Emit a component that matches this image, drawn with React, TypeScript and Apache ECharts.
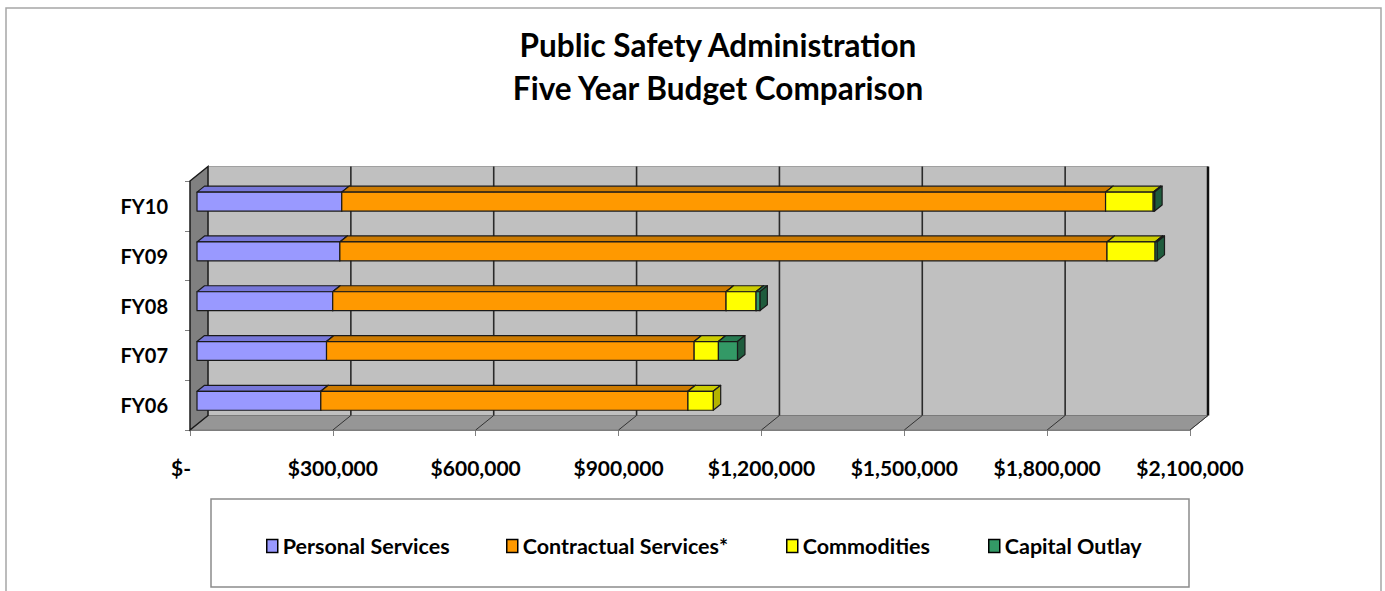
import React, { useEffect, useRef } from "react";
import * as echarts from "echarts";

const categories = ["FY06", "FY07", "FY08", "FY09", "FY10"];
const seriesNames = ["Personal Services", "Contractual Services*", "Commodities", "Capital Outlay"];
const personalServices = [260000, 272000, 285000, 300000, 304000];
const contractualServices = [771000, 772000, 826000, 1611000, 1604000];
const commodities = [53000, 51000, 63000, 101000, 100000];
const capitalOutlay = [0, 40000, 8000, 4000, 3000];
const xTicks = [0, 300000, 600000, 900000, 1200000, 1500000, 1800000, 2100000];

const frontColors = ["#9999FF", "#FF9900", "#FFFF00", "#339966"];
const topColors = ["#7777D9", "#CC7A00", "#CCCC00", "#267A50"];
const sideColors = ["#6666B3", "#B36B00", "#B3B300", "#1F5C3D"];
const legendX = [266, 506, 786, 988];

const FONT = "Lato";
const WALL_DEPTH = [18, -14.5];
const BAR_OFF = [7, -4.3];
const BAR_DEPTH = [7.5, -6];

function makeBarRenderer(k: number) {
  return (params: any, api: any) => {
    const cat = api.value(0);
    const s = api.value(1);
    const e = api.value(2);
    if (!(e - s > 0)) return null;
    const p0 = api.coord([s, cat]);
    const p1 = api.coord([e, cat]);
    const band = api.size([0, 1])[1];
    const h = band * 0.38;
    const x0 = p0[0] + BAR_OFF[0];
    const x1 = p1[0] + BAR_OFF[0];
    const yTop = p0[1] + BAR_OFF[1] - h / 2;
    const yBot = yTop + h;
    const dx = BAR_DEPTH[0];
    const dy = BAR_DEPTH[1];
    const st = { stroke: "#1a1a1a", lineWidth: 1.2, lineJoin: "round" };
    return {
      type: "group",
      children: [
        {
          type: "polygon",
          shape: { points: [[x0, yTop], [x0 + dx, yTop + dy], [x1 + dx, yTop + dy], [x1, yTop]] },
          style: { fill: topColors[k], ...st },
        },
        {
          type: "polygon",
          shape: { points: [[x1, yTop], [x1 + dx, yTop + dy], [x1 + dx, yBot + dy], [x1, yBot]] },
          style: { fill: sideColors[k], ...st },
        },
        {
          type: "rect",
          shape: { x: x0, y: yTop, width: x1 - x0, height: h },
          style: { fill: frontColors[k], ...st },
        },
      ],
    };
  };
}

function wallsRenderer(params: any, api: any) {
  const cs = params.coordSys;
  const x = cs.x, y = cs.y, w = cs.width, h = cs.height;
  const dx = WALL_DEPTH[0], dy = WALL_DEPTH[1];
  const children: any[] = [];
  children.push({
    type: "rect",
    shape: { x: x + dx, y: y + dy, width: w, height: h },
    style: { fill: "#C0C0C0", stroke: "#a0a0a0", lineWidth: 1 },
  });
  children.push({
    type: "polygon",
    shape: { points: [[x, y + h], [x + dx, y + h + dy], [x + w + dx, y + h + dy], [x + w, y + h]] },
    style: { fill: "#969696", stroke: "#7a7a7a", lineWidth: 1 },
  });
  const last = xTicks.length - 1;
  xTicks.forEach((v, i) => {
    const px = api.coord([v, 0])[0];
    if (i > 0) {
      children.push({
        type: "line",
        shape: { x1: px + dx, y1: y + dy, x2: px + dx, y2: y + h + dy },
        style: { stroke: i === last ? "#111" : "#2a2a2a", lineWidth: i === last ? 2.5 : 1.6 },
      });
      children.push({
        type: "line",
        shape: { x1: px, y1: y + h, x2: px + dx, y2: y + h + dy },
        style: { stroke: "#333", lineWidth: 1 },
      });
    }
  });
  children.push({
    type: "polygon",
    shape: { points: [[x, y], [x + dx, y + dy], [x + dx, y + h + dy], [x, y + h]] },
    style: { fill: "#808080", stroke: "#1a1a1a", lineWidth: 1.5 },
  });
  return { type: "group", children };
}

export default function App() {
  const ref = useRef<HTMLDivElement>(null);
  useEffect(() => {
    if (!ref.current) return;
    const chart = echarts.init(ref.current, undefined, { renderer: "svg" });
    const segs = [personalServices, contractualServices, commodities, capitalOutlay];
    const barSeries = segs.map((arr, k) => ({
      type: "custom",
      name: seriesNames[k],
      z: 3,
      silent: true,
      itemStyle: { color: frontColors[k] },
      renderItem: makeBarRenderer(k),
      encode: { x: [1, 2], y: 0 },
      data: categories.map((_, i) => {
        let start = 0;
        for (let j = 0; j < k; j++) start += segs[j][i];
        return [i, start, start + arr[i]];
      }),
    }));
    const axisFont = { fontFamily: FONT, fontWeight: "bold", fontSize: 21, color: "#000" };
    chart.setOption({
      animation: false,
      backgroundColor: "#ffffff",
      title: {
        text: "Public Safety Administration\nFive Year Budget Comparison",
        left: 718,
        textAlign: "center",
        top: 23,
        padding: 0,
        textStyle: { fontFamily: FONT, fontWeight: "bold", fontSize: 31.5, lineHeight: 43, color: "#000" },
      },
      graphic: [
        {
          type: "rect",
          shape: { x: 6, y: 8, width: 1375, height: 600 },
          style: { fill: "none", stroke: "#a6a6a6", lineWidth: 1.5 },
          silent: true,
        },
        {
          type: "rect",
          shape: { x: 211, y: 499, width: 978, height: 88 },
          style: { fill: "none", stroke: "#8c8c8c", lineWidth: 1.5 },
          silent: true,
        },
      ],
      legend: seriesNames.map((n, k) => ({
        data: [{ name: n, itemStyle: { borderColor: "#000", borderWidth: 1.5 } }],
        left: legendX[k],
        top: 535,
        icon: "rect",
        itemWidth: 11,
        itemHeight: 13,
        itemGap: 0,
        padding: 0,
        selectedMode: false,
        textStyle: { fontFamily: FONT, fontWeight: "bold", fontSize: 21.5, color: "#000" },
      })),
      grid: { left: 190, right: 195, top: 181, bottom: 161 },
      xAxis: {
        type: "value",
        min: 0,
        max: 2100000,
        interval: 300000,
        axisLine: { show: true, lineStyle: { color: "#808080", width: 1 } },
        axisTick: { show: true, length: 6, lineStyle: { color: "#808080" } },
        splitLine: { show: false },
        axisLabel: {
          ...axisFont,
          margin: 27,
          formatter: (v: number) => (v === 0 ? "{z|$-}" : "$" + v.toLocaleString("en-US")),
          rich: { z: { ...axisFont, padding: [0, 18, 0, 0] } },
        },
      },
      yAxis: {
        type: "category",
        data: categories,
        axisLine: { show: false },
        axisTick: { show: true, length: 5, lineStyle: { color: "#808080" } },
        splitLine: { show: false },
        axisLabel: { ...axisFont, fontSize: 20, margin: 22 },
      },
      series: [
        {
          type: "custom",
          name: "walls",
          z: 1,
          silent: true,
          renderItem: wallsRenderer,
          encode: { x: 0, y: 1 },
          data: [[0, 0]],
        },
        ...barSeries,
      ],
    });
    return () => chart.dispose();
  }, []);
  return (
    <div
      ref={ref}
      style={{ position: "absolute", left: 0, top: 0, width: 1385, height: 591 }}
    />
  );
}
